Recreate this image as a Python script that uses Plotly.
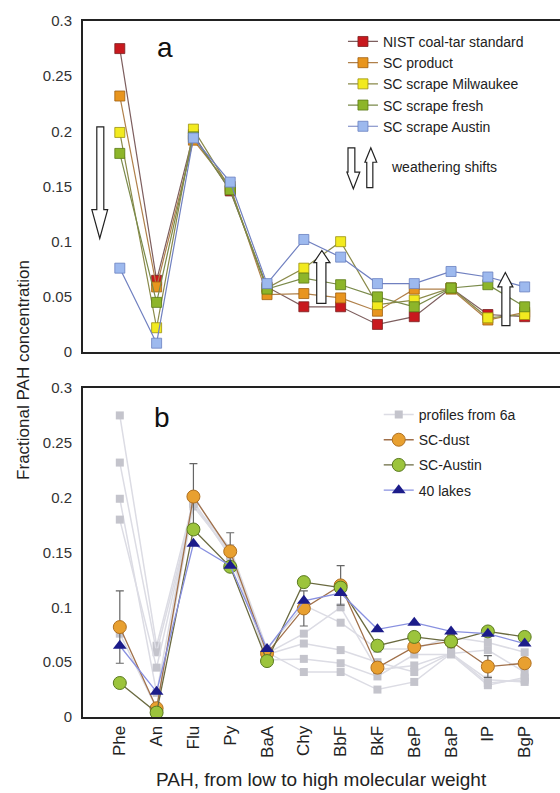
import plotly.graph_objects as go

PAH = ["Phe", "An", "Flu", "Py", "BaA", "Chy", "BbF", "BkF", "BeP", "BaP", "IP", "BgP"]

# Panel a: fractional PAH profiles
nist       = [0.275, 0.065, 0.197, 0.146, 0.059, 0.041, 0.041, 0.025, 0.032, 0.058, 0.034, 0.032]
sc_product = [0.232, 0.059, 0.192, 0.150, 0.052, 0.053, 0.049, 0.037, 0.057, 0.057, 0.029, 0.036]
sc_milw    = [0.199, 0.022, 0.202, 0.148, 0.058, 0.076, 0.100, 0.043, 0.047, 0.058, 0.031, 0.034]
sc_fresh   = [0.180, 0.045, 0.195, 0.147, 0.057, 0.067, 0.061, 0.050, 0.041, 0.058, 0.061, 0.041]
sc_austin_a= [0.076, 0.008, 0.194, 0.154, 0.062, 0.102, 0.086, 0.062, 0.062, 0.073, 0.068, 0.059]

# Panel b
sc_dust     = [0.082, 0.008, 0.201, 0.151, 0.058, 0.099, 0.120, 0.045, 0.064, 0.069, 0.046, 0.049]
sc_dust_err = [0.033, 0.003, 0.030, 0.017, 0.004, 0.016, 0.018, 0.005, 0.004, 0.006, 0.010, 0.004]
sc_austin_b = [0.031, 0.004, 0.171, 0.137, 0.051, 0.123, 0.118, 0.065, 0.073, 0.069, 0.078, 0.073]
lakes40     = [0.065, 0.023, 0.158, 0.138, 0.062, 0.106, 0.113, 0.080, 0.086, 0.078, 0.076, 0.067]

xi = list(range(len(PAH)))

fig = go.Figure()

series_a = [
    ("NIST coal-tar standard", nist, "#C8191E", "#7a2020", "#7d5e5e"),
    ("SC product", sc_product, "#E8951E", "#a06010", "#b0804a"),
    ("SC scrape Milwaukee", sc_milw, "#F2EA1F", "#9a9010", "#8a8a4a"),
    ("SC scrape fresh", sc_fresh, "#8DB52A", "#5a7a15", "#7a8a4a"),
    ("SC scrape Austin", sc_austin_a, "#9DB9EE", "#6a80c0", "#7080c0"),
]
for name, vals, fc, ec, lc in series_a:
    fig.add_trace(go.Scatter(
        x=xi, y=vals, name=name, mode="lines+markers",
        line=dict(color=lc, width=1.2),
        marker=dict(symbol="square", size=10, color=fc, line=dict(color=ec, width=0.8)),
        xaxis="x", yaxis="y", legend="legend"))

# panel b gray profiles
for k, (name, vals, fc, ec, lc) in enumerate(series_a):
    fig.add_trace(go.Scatter(
        x=xi, y=vals, name="profiles from 6a", mode="lines+markers",
        legendgroup="prof", showlegend=(k == 0),
        line=dict(color="#dcdce4", width=1.5),
        marker=dict(symbol="square", size=8, color="#c4c4cc"),
        xaxis="x2", yaxis="y2", legend="legend2"))

fig.add_trace(go.Scatter(
    x=xi, y=sc_dust, name="SC-dust", mode="lines+markers",
    error_y=dict(type="data", array=sc_dust_err, color="#666666", thickness=1.2, width=4),
    line=dict(color="#a0704a", width=1.3),
    marker=dict(symbol="circle", size=13, color="#E8A030", line=dict(color="#b07020", width=1)),
    xaxis="x2", yaxis="y2", legend="legend2"))
fig.add_trace(go.Scatter(
    x=xi, y=sc_austin_b, name="SC-Austin", mode="lines+markers",
    line=dict(color="#6a6a40", width=1.3),
    marker=dict(symbol="circle", size=13, color="#9CC43C", line=dict(color="#5a7a20", width=1)),
    xaxis="x2", yaxis="y2", legend="legend2"))
fig.add_trace(go.Scatter(
    x=xi, y=lakes40, name="40 lakes", mode="lines+markers",
    line=dict(color="#8890e0", width=1.3),
    marker=dict(symbol="triangle-up", size=12, color="#1c1c8a"),
    xaxis="x2", yaxis="y2", legend="legend2"))

def down_arrow(x0, x1, xl, xr, yt, yh, ytip):
    xc = (xl + xr) / 2
    return f"M {x0},{yt} L {x1},{yt} L {x1},{yh} L {xr},{yh} L {xc},{ytip} L {xl},{yh} L {x0},{yh} Z"

def up_arrow(x0, x1, xl, xr, yb, yh, ytip):
    xc = (xl + xr) / 2
    return f"M {x0},{yb} L {x1},{yb} L {x1},{yh} L {xr},{yh} L {xc},{ytip} L {xl},{yh} L {x0},{yh} Z"

arrows = [
    down_arrow(-0.625, -0.435, -0.76, -0.33, 0.204, 0.129, 0.103),
    up_arrow(5.35, 5.6, 5.27, 5.71, 0.044, 0.081, 0.092),
    up_arrow(10.38, 10.6, 10.27, 10.68, 0.024, 0.059, 0.072),
    down_arrow(6.2, 6.386, 6.17, 6.52, 0.185, 0.163, 0.148),
    up_arrow(6.71, 6.875, 6.66, 6.98, 0.149, 0.172, 0.185),
]
shapes = [dict(type="path", path=p, xref="x", yref="y", fillcolor="white",
               line=dict(color="#222222", width=1.2), layer="above") for p in arrows]

axis_common = dict(showline=True, linecolor="#222222", linewidth=2, showgrid=False,
                   zeroline=False, ticks="", automargin=False)
font_family = "Liberation Sans, Arial, sans-serif"

fig.update_layout(
    template="none",
    width=560, height=793,
    margin=dict(l=83, r=0, t=21, b=76),
    paper_bgcolor="white", plot_bgcolor="white",
    font=dict(family=font_family, color="#222222"),
    xaxis=dict(domain=[0, 1], range=[-1, 11.96], anchor="y", showticklabels=False,
               mirror=True, **axis_common),
    yaxis=dict(domain=[0.5244, 1], range=[0, 0.3], anchor="x", dtick=0.05,
               tickfont=dict(size=15, color="#333333"), ticklabelstandoff=6, **axis_common),
    xaxis2=dict(domain=[0, 1], range=[-1, 11.96], anchor="y2", tickmode="array",
                tickvals=xi, ticktext=PAH, tickangle=-90,
                tickfont=dict(size=17, color="#222222"), mirror=True, **axis_common),
    yaxis2=dict(domain=[0, 0.4727], range=[0, 0.3], anchor="x2", dtick=0.05,
                tickfont=dict(size=15, color="#333333"), ticklabelstandoff=6, **axis_common),
    legend=dict(x=0.545, y=0.993, xanchor="left", yanchor="top",
                font=dict(size=14, color="#222222"), bgcolor="rgba(0,0,0,0)",
                tracegroupgap=0),
    legend2=dict(x=0.62, y=0.457, xanchor="left", yanchor="top",
                 font=dict(size=14, color="#222222"), bgcolor="rgba(0,0,0,0)",
                 tracegroupgap=4),
    shapes=shapes,
    annotations=[
        dict(text="a", x=1.22, y=0.276, xref="x", yref="y", showarrow=False,
             font=dict(size=28, color="#111111")),
        dict(text="b", x=1.15, y=0.273, xref="x2", yref="y2", showarrow=False,
             font=dict(size=28, color="#111111")),
        dict(text="weathering shifts", x=0.6415, y=0.168, xref="paper", yref="y",
             xanchor="left", yanchor="middle", showarrow=False,
             font=dict(size=14, color="#222222")),
        dict(text="Fractional PAH concentration", x=-0.148, y=0.4986, xref="paper",
             yref="paper", textangle=-90, showarrow=False,
             font=dict(size=17, color="#222222")),
        dict(text="PAH, from low to high molecular weight", x=0.5, y=-0.0905,
             xref="paper", yref="paper", showarrow=False, yanchor="middle",
             font=dict(size=19, color="#222222")),
    ],
)

fig.write_html("out.html")
